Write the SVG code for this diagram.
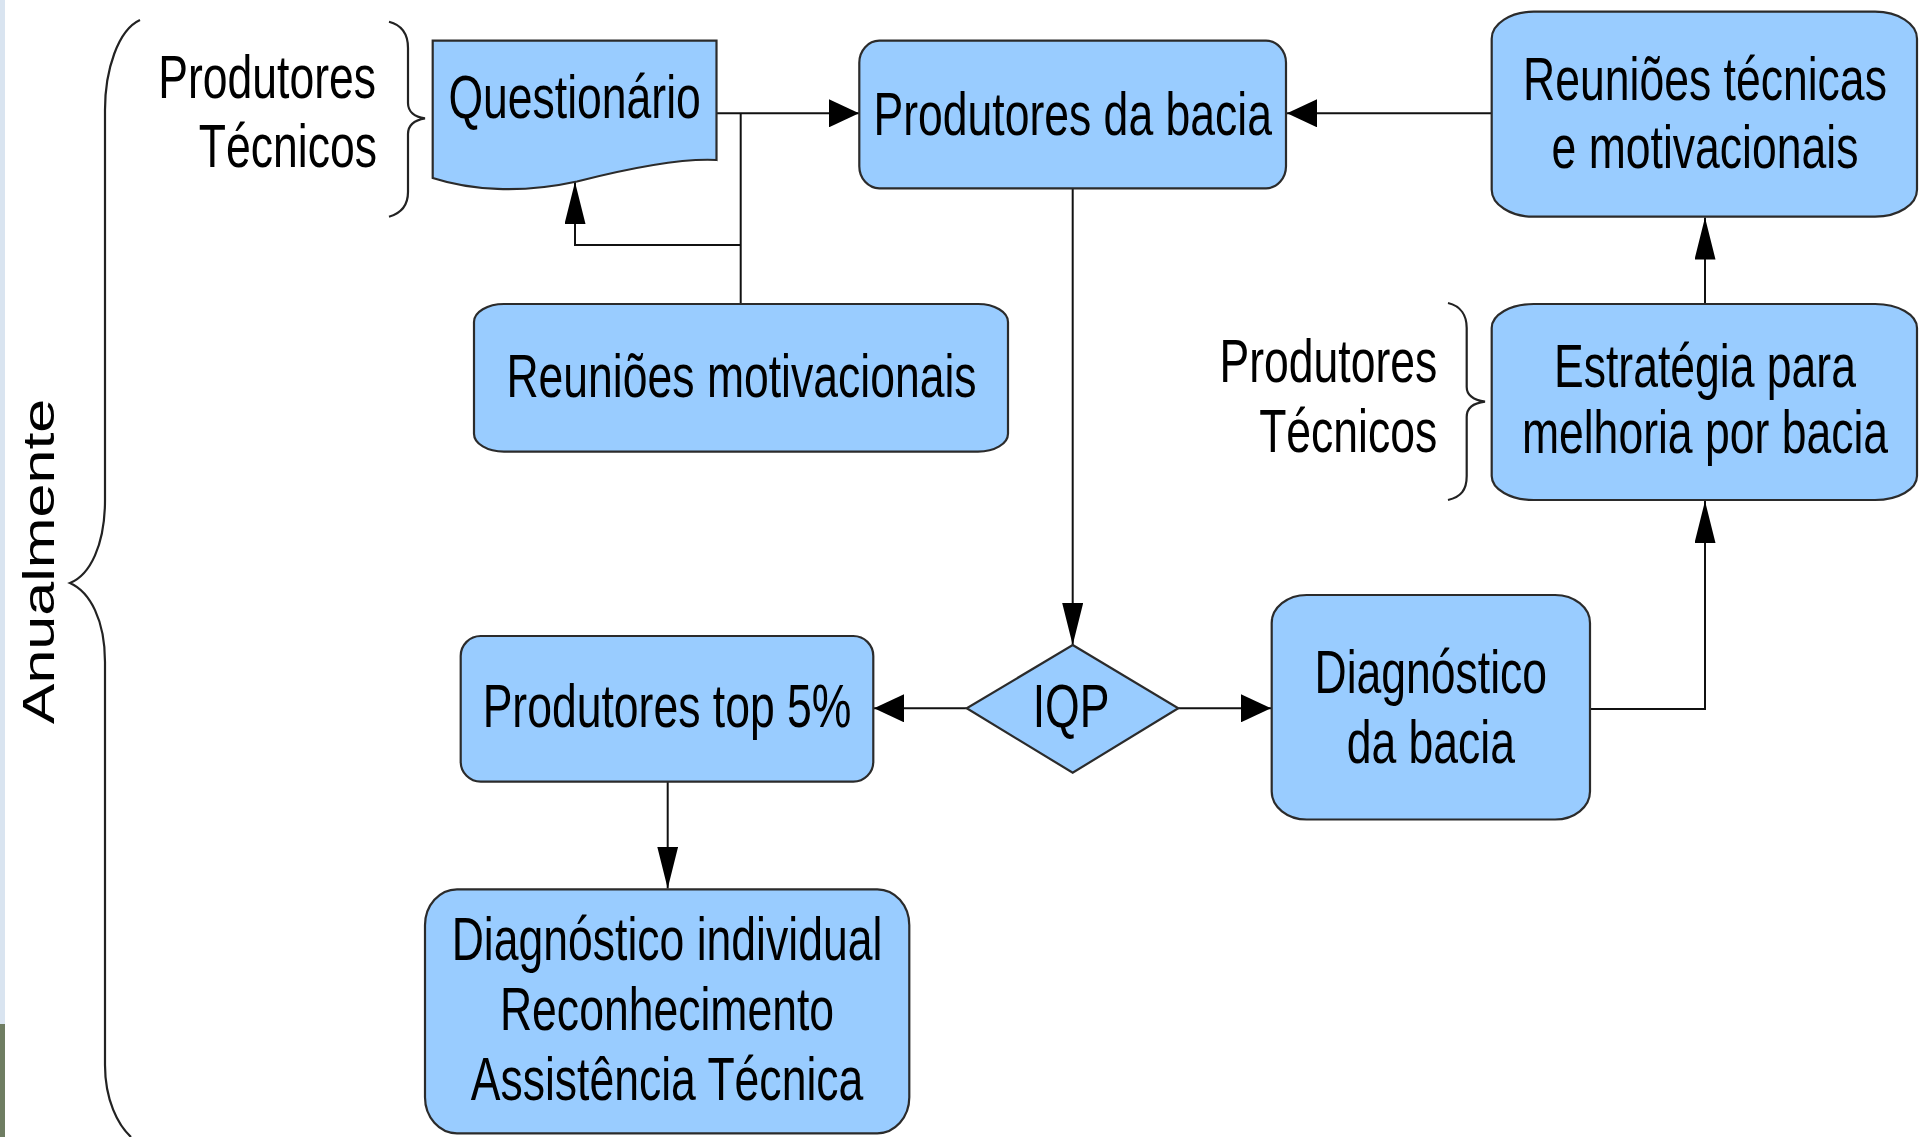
<svg xmlns="http://www.w3.org/2000/svg" width="1920" height="1137" viewBox="0 0 1920 1137">
<defs>
<style>
.box{fill:#99ccff;stroke:#2b2b2b;stroke-width:2.2}
.t{font-family:"Liberation Sans",Arial,sans-serif;font-size:61px;fill:#000}
.m{text-anchor:middle}
.e{text-anchor:end}
.c{fill:none;stroke:#111;stroke-width:2}
.br{fill:none;stroke:#222;stroke-width:2.2}
</style>
<marker id="ah" markerUnits="userSpaceOnUse" viewBox="0 -14 30 28" refX="30" refY="0" markerWidth="30" markerHeight="28" orient="auto"><path d="M0,-14 L30,0 L0,14 z" fill="#000"/></marker>
<marker id="av" markerUnits="userSpaceOnUse" viewBox="0 -10.5 42 21" refX="42" refY="0" markerWidth="42" markerHeight="21" orient="auto"><path d="M0,-10.5 L42,0 L0,10.5 z" fill="#000"/></marker>
</defs>
<rect x="0" y="0" width="1920" height="1137" fill="#fff"/>
<rect x="0" y="0" width="5" height="1024" fill="#d9e4f0"/>
<rect x="0" y="1024" width="5" height="113" fill="#6f7d62"/>

<g id="brace-anual">
<path class="br" d="M140,20 C118,30 105,70 105,110 V500 C105,545 90,575 70,583 C90,592 105,620 105,662 V1065 C105,1100 118,1125 131,1137"/>
<text class="t m" transform="translate(53.5,561.5) scale(0.73,1) rotate(-90)">Anualmente</text>
</g>

<g id="labels-left">
<text class="t e" transform="translate(376,98.3) scale(0.73,1)">Produtores</text>
<text class="t e" transform="translate(377,166.7) scale(0.73,1)">Técnicos</text>
<path class="br" d="M389,21.7 C402,25 408,35 408,48 V103 C408,112 415,117 425,118.3 C415,120 408,125 408,134 V192 C408,205 402,213 389,216.7"/>
</g>

<g id="labels-right">
<text class="t e" transform="translate(1437.3,381.7) scale(0.73,1)">Produtores</text>
<text class="t e" transform="translate(1437.3,451.7) scale(0.73,1)">Técnicos</text>
<path class="br" d="M1448,303 C1461,306 1466.7,316 1466.7,328 V387 C1466.7,396 1474,400 1485,401.7 C1474,403 1466.7,408 1466.7,417 V476 C1466.7,490 1461,497 1448,500"/>
</g>

<g id="connectors">
<path class="c" d="M716.5,113.3 H859" marker-end="url(#ah)"/>
<path class="c" d="M740.7,304 V113.3"/>
<path class="c" d="M740.7,245 H575 V182" marker-end="url(#av)"/>
<path class="c" d="M1491.7,113.3 H1287" marker-end="url(#ah)"/>
<path class="c" d="M1072.7,188.3 V645" marker-end="url(#av)"/>
<path class="c" d="M966.7,708.3 H874" marker-end="url(#ah)"/>
<path class="c" d="M1178.3,708.3 H1271" marker-end="url(#ah)"/>
<path class="c" d="M667.7,781.7 V888.5" marker-end="url(#av)"/>
<path class="c" d="M1590,709 H1705 V501" marker-end="url(#av)"/>
<path class="c" d="M1705,304 V217.5" marker-end="url(#av)"/>
</g>

<g id="node-questionario">
<path class="box" d="M432.7,40.7 H716.5 V160 C680,158 630,168 577,181.5 C520,194 470,190 432.7,178 Z"/>
<text class="t m" transform="translate(574.6,118.3) scale(0.73,1)">Questionário</text>
</g>

<g id="node-produtores-bacia">
<rect class="box" x="859.3" y="40.7" width="426.7" height="147.6" rx="20" ry="22"/>
<text class="t m" transform="translate(1072.7,135) scale(0.73,1)">Produtores da bacia</text>
</g>

<g id="node-reunioes-tecnicas">
<rect class="box" x="1491.7" y="11.7" width="425.3" height="205" rx="42" ry="27"/>
<text class="t m" transform="translate(1705,100) scale(0.73,1)">Reuniões técnicas</text>
<text class="t m" transform="translate(1705,168) scale(0.73,1)">e motivacionais</text>
</g>

<g id="node-reunioes-motivacionais">
<rect class="box" x="474" y="304" width="534" height="147.7" rx="30" ry="18"/>
<text class="t m" transform="translate(741.5,397.3) scale(0.73,1)">Reuniões motivacionais</text>
</g>

<g id="node-estrategia">
<rect class="box" x="1491.7" y="304" width="425.3" height="196" rx="42" ry="24"/>
<text class="t m" transform="translate(1705,386.7) scale(0.73,1)">Estratégia para</text>
<text class="t m" transform="translate(1705,453.3) scale(0.73,1)">melhoria por bacia</text>
</g>

<g id="node-iqp">
<path class="box" d="M1072.7,645 L1178.3,708.3 L1072.7,772.7 L966.7,708.3 Z"/>
<text class="t m" transform="translate(1071,726.7) scale(0.73,1)">IQP</text>
</g>

<g id="node-diagnostico-bacia">
<rect class="box" x="1271.7" y="595" width="318.3" height="224.5" rx="35" ry="28"/>
<text class="t m" transform="translate(1430.8,693.3) scale(0.73,1)">Diagnóstico</text>
<text class="t m" transform="translate(1430.8,762.7) scale(0.73,1)">da bacia</text>
</g>

<g id="node-top5">
<rect class="box" x="460.7" y="636" width="412.6" height="145.7" rx="20" ry="20"/>
<text class="t m" transform="translate(667,726.7) scale(0.73,1)">Produtores top 5%</text>
</g>

<g id="node-diagnostico-individual">
<rect class="box" x="425" y="889.3" width="484.3" height="244" rx="32" ry="36"/>
<text class="t m" transform="translate(667,960) scale(0.73,1)">Diagnóstico individual</text>
<text class="t m" transform="translate(667,1030) scale(0.73,1)">Reconhecimento</text>
<text class="t m" transform="translate(667,1100) scale(0.73,1)">Assistência Técnica</text>
</g>
</svg>
